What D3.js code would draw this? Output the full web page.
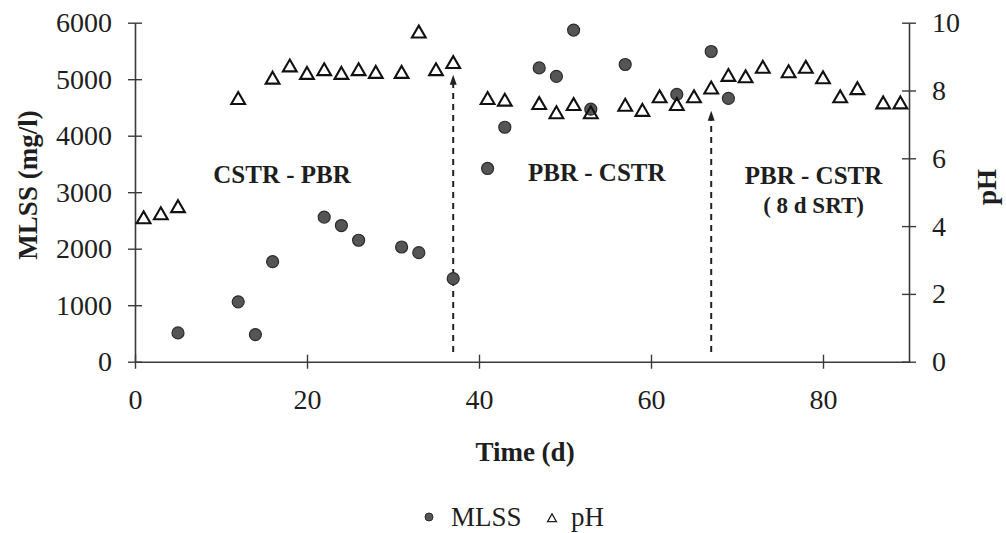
<!DOCTYPE html>
<html>
<head>
<meta charset="utf-8">
<script src="https://cdn.jsdelivr.net/npm/d3@7"></script>
<style>
  html, body { margin: 0; padding: 0; background: #ffffff; }
  svg { display: block; }
  text { font-family: "Liberation Serif", "Times New Roman", serif; fill: #1e1e1e; }
</style>
</head>
<body>
<svg id="chart" width="1006" height="533"></svg>
<script>
// MLSS measurements (day, mg/l)
const mlssDays   = [5, 12, 14, 16, 22, 24, 26, 31, 33, 37, 41, 43, 47, 49, 51, 53, 57, 63, 67, 69];
const mlssValues = [510, 1060, 480, 1770, 2560, 2410, 2150, 2030, 1930, 1470, 3420, 4150, 5200, 5050, 5870, 4470, 5260, 4730, 5490, 4660];

// pH measurements (day, pH)
const phDays   = [1, 3, 5, 12, 16, 18, 20, 22, 24, 26, 28, 31, 33, 35, 37, 41, 43, 47, 49, 51, 53, 57, 59, 61, 63, 65, 67, 69, 71, 73, 76, 78, 80, 82, 84, 87, 89];
const phValues = [4.2, 4.32, 4.53, 7.72, 8.32, 8.68, 8.46, 8.57, 8.46, 8.57, 8.49, 8.49, 9.68, 8.57, 8.78, 7.72, 7.67, 7.57, 7.3, 7.54, 7.3, 7.52, 7.37, 7.77, 7.54, 7.77, 8.03, 8.4, 8.36, 8.64, 8.51, 8.64, 8.33, 7.77, 8.01, 7.59, 7.59];

// Axis ticks
const dayTicks  = [0, 20, 40, 60, 80];
const mlssTicks = [0, 1000, 2000, 3000, 4000, 5000, 6000];
const phTicks   = [0, 2, 4, 6, 8, 10];

// Reactor configuration changes: day and arrow tip (mg/l)
const changeDays = [37, 67];
const changeTips = [5080, 4440];

// Operating-period labels: text, day, MLSS level of baseline, size
const phaseText = ["CSTR - PBR", "PBR - CSTR", "PBR - CSTR", "( 8 d SRT)"];
const phaseDay  = [17.1, 53.7, 78.9, 78.9];
const phaseAt   = [3160, 3190, 3140, 2630];
const phaseSize = [25, 25, 25, 23];

const svg = d3.select("#chart");

const x  = d3.scaleLinear().domain([0, 90]).range([135, 909]);
const yL = d3.scaleLinear().domain([0, 6000]).range([361.7, 22.7]);
const yR = d3.scaleLinear().domain([0, 10]).range([361.7, 22.7]);

const axisColor = "#3a3a3a";
const tickHalf = 7;
const plain = d3.format("d");

// Bottom axis
const gx = svg.append("g").attr("transform", `translate(0,${yL(0)})`)
  .call(d3.axisBottom(x).tickValues(dayTicks).tickFormat(plain)
    .tickSizeInner(tickHalf).tickSizeOuter(0).tickPadding(24));
gx.selectAll(".tick line").attr("y1", -tickHalf);
// Left axis
const gl = svg.append("g").attr("transform", `translate(${x(0)},0)`)
  .call(d3.axisLeft(yL).tickValues(mlssTicks).tickFormat(plain)
    .tickSizeInner(tickHalf).tickSizeOuter(0).tickPadding(16));
gl.selectAll(".tick line").attr("x1", tickHalf);
// Right axis
const gr = svg.append("g").attr("transform", `translate(${x(90)},0)`)
  .call(d3.axisRight(yR).tickValues(phTicks).tickFormat(plain)
    .tickSizeInner(tickHalf).tickSizeOuter(0).tickPadding(16));
gr.selectAll(".tick line").attr("x1", -tickHalf);

[gx, gl, gr].forEach(g => {
  g.select(".domain").attr("stroke", axisColor).attr("stroke-width", 1.6);
  g.selectAll(".tick line").attr("stroke", axisColor).attr("stroke-width", 1.4);
  g.selectAll(".tick text")
    .attr("font-family", "Liberation Serif, Times New Roman, serif")
    .attr("font-size", 28).attr("fill", "#1e1e1e");
});
gx.selectAll(".tick text").attr("dy", "0.6em");

// Axis titles
svg.append("text").attr("x", 525).attr("y", 461).attr("text-anchor", "middle")
  .attr("font-size", 27).attr("font-weight", "bold").text("Time (d)");
svg.append("text").attr("transform", "translate(37,185) rotate(-90)").attr("text-anchor", "middle")
  .attr("font-size", 27).attr("font-weight", "bold").text("MLSS (mg/l)");
svg.append("text").attr("transform", "translate(996,187) rotate(-90)").attr("text-anchor", "middle")
  .attr("font-size", 27).attr("font-weight", "bold").text("pH");

// Configuration change arrows
const arrows = svg.append("g");
changeDays.forEach((d, i) => {
  const ax = x(d), top = yL(changeTips[i]);
  arrows.append("line")
    .attr("x1", ax).attr("x2", ax).attr("y1", yL(170)).attr("y2", top + 8)
    .attr("stroke", "#222").attr("stroke-width", 2).attr("stroke-dasharray", "6,5");
  arrows.append("path")
    .attr("d", `M${ax},${top} L${ax - 3.5},${top + 10} L${ax + 3.5},${top + 10} Z`)
    .attr("fill", "#222");
});

// Period labels
phaseText.forEach((t, i) => {
  svg.append("text").attr("x", x(phaseDay[i])).attr("y", yL(phaseAt[i]))
    .attr("text-anchor", "middle").attr("font-size", phaseSize[i]).attr("font-weight", "bold")
    .text(t);
});

// MLSS points
svg.append("g").selectAll("circle")
  .data(mlssDays.map((d, i) => [d, mlssValues[i]]))
  .join("circle")
  .attr("cx", d => x(d[0])).attr("cy", d => yL(d[1])).attr("r", 6)
  .attr("fill", "#555").attr("stroke", "#2c2c2c").attr("stroke-width", 1.2);

// pH points
const tri = d3.symbol().type(d3.symbolTriangle).size(82);
svg.append("g").selectAll("path")
  .data(phDays.map((d, i) => [d, phValues[i]]))
  .join("path")
  .attr("d", tri)
  .attr("transform", d => `translate(${x(d[0])},${yR(d[1])})`)
  .attr("fill", "none").attr("stroke", "#111").attr("stroke-width", 2.1);

// Legend
const lg = svg.append("g");
lg.append("circle").attr("cx", 429).attr("cy", 517).attr("r", 4)
  .attr("fill", "#555").attr("stroke", "#2c2c2c").attr("stroke-width", 1);
lg.append("text").attr("x", 451).attr("y", 526).attr("font-size", 27).text("MLSS");
lg.append("path").attr("d", d3.symbol().type(d3.symbolTriangle).size(34)())
  .attr("transform", "translate(552,519)")
  .attr("fill", "none").attr("stroke", "#222").attr("stroke-width", 1.3);
lg.append("text").attr("x", 571).attr("y", 526).attr("font-size", 27).text("pH");
</script>
</body>
</html>
